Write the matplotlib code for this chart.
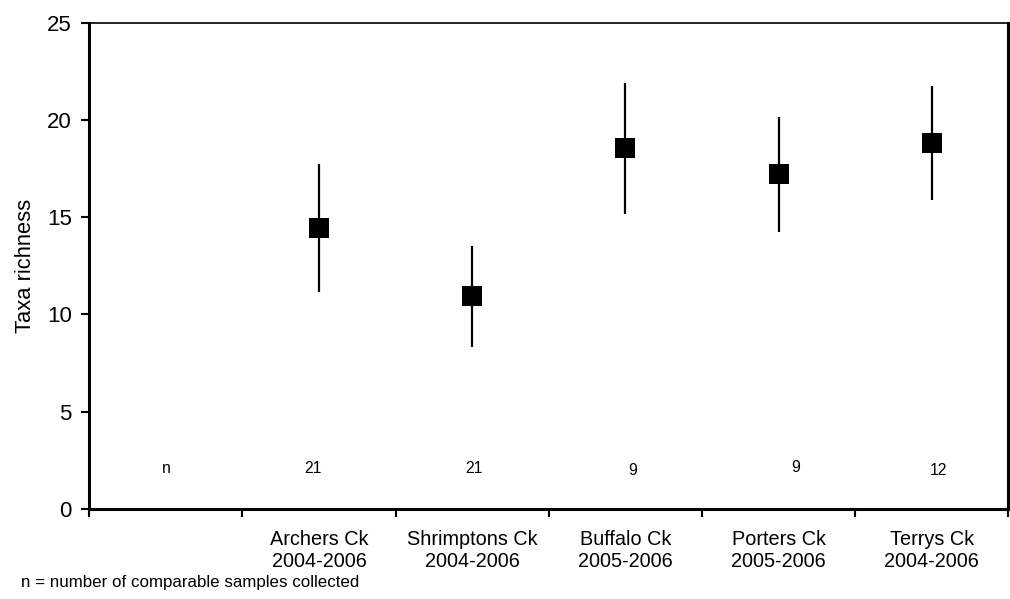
import matplotlib
matplotlib.use("Agg")
import matplotlib.pyplot as plt

plt.rcParams['font.family'] = ['Liberation Sans', 'DejaVu Sans']

sites = ["Archers Ck\n2004-2006", "Shrimptons Ck\n2004-2006", "Buffalo Ck\n2005-2006",
         "Porters Ck\n2005-2006", "Terrys Ck\n2004-2006"]
means = [14.46, 10.94, 18.54, 17.22, 18.82]
lower = [11.17, 8.33, 15.15, 14.22, 15.89]
upper = [17.74, 13.52, 21.92, 20.17, 21.75]
n_labels = ["n", "21", "21", "9", "9", "12"]
n_heights = [2.06, 2.06, 2.06, 1.97, 2.12, 1.97]
n_offsets = [0.0, -0.04, 0.01, 0.05, 0.11, 0.04]

fig = plt.figure(figsize=(10.10, 5.99), dpi=100)
ax = fig.add_axes([0.0884, 0.1503, 0.9101, 0.8117])

xs = [i + 1.5 for i in range(len(sites))]
yerr = [[m - l for m, l in zip(means, lower)], [u - m for m, u in zip(means, upper)]]
ax.errorbar(xs, means, yerr=yerr, fmt='s', color='black', ecolor='black',
            elinewidth=1.6, capsize=0, markersize=14, markeredgewidth=0)

for i, (lab, h, off) in enumerate(zip(n_labels, n_heights, n_offsets)):
    ax.text(i + 0.5 + off, h, lab, ha='center', va='center', fontsize=11.3)

ax.set_xlim(0, 6)
ax.set_ylim(0, 25)
ax.set_yticks([0, 5, 10, 15, 20, 25])
ax.set_xticks(range(7))
ax.set_xticklabels([])
ax.set_xticks(xs, minor=True)
ax.set_xticklabels(sites, minor=True, fontsize=14.3, linespacing=1.2)
ax.tick_params(axis='x', which='minor', length=0, pad=15)
ax.tick_params(axis='x', which='major', length=6, width=1.5, direction='out')
ax.tick_params(axis='y', length=6, width=1.5, direction='out', labelsize=16, pad=6.5)

ax.spines['left'].set_linewidth(2.2)
ax.spines['bottom'].set_linewidth(2.2)
ax.spines['right'].set_linewidth(2.2)
ax.spines['top'].set_linewidth(1.2)

ax.set_ylabel("Taxa richness", fontsize=15.8, labelpad=8)

fig.text(0.0208, 0.028, "n = number of comparable samples collected", fontsize=12.2,
         ha='left', va='center')

fig.savefig("out.png", dpi=100)
